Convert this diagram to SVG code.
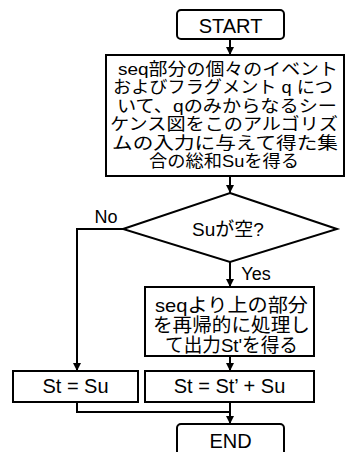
<svg xmlns="http://www.w3.org/2000/svg" width="345" height="452" viewBox="0 0 345 452">
<style>
.box{fill:#fff;stroke:#000;stroke-width:2}
.ln{fill:none;stroke:#000;stroke-width:2}
.t{font-family:"Liberation Sans","Noto Sans CJK JP",sans-serif;fill:#000;text-anchor:middle}
.j{font-size:19px}
.m{font-size:17px}
.l{font-size:20px}
.s{font-size:18px}
</style>
<defs>
<marker id="arr" markerUnits="userSpaceOnUse" viewBox="0 0 10 10" refX="10" refY="5" markerWidth="8" markerHeight="10" orient="auto">
<path d="M0,0 L10,5 L0,10 z" fill="#000"/>
</marker>
</defs>
<rect width="345" height="452" fill="#fff"/>
<g id="connectors">
<path class="ln" d="M230,39 V55" marker-end="url(#arr)"/>
<path class="ln" d="M230,176 V193" marker-end="url(#arr)"/>
<path class="ln" d="M123,229 H77 V371" marker-end="url(#arr)"/>
<path class="ln" d="M230,262 V287" marker-end="url(#arr)"/>
<path class="ln" d="M230,356 V371" marker-end="url(#arr)"/>
<path class="ln" d="M77,402 V412 H230"/>
<path class="ln" d="M230,402 V424" marker-end="url(#arr)"/>
<text class="t s" x="106" y="223">No</text>
<text class="t s" x="256" y="280">Yes</text>
</g>
<g id="start">
<rect class="box" x="177" y="10" width="107" height="29" rx="4"/>
<text class="t l" x="230.5" y="33">START</text>
</g>
<g id="step1">
<rect class="box" x="106" y="55" width="238" height="121"/>
<text class="t m" x="228" y="75" textLength="220" lengthAdjust="spacingAndGlyphs">seq部分の個々のイベント</text>
<text class="t m" x="223" y="93.4" textLength="220" lengthAdjust="spacingAndGlyphs">およびフラグメント q につ</text>
<text class="t m" x="227" y="111.8" textLength="220" lengthAdjust="spacingAndGlyphs">いて、qのみからなるシー</text>
<text class="t m" x="224" y="130.2" textLength="228" lengthAdjust="spacingAndGlyphs">ケンス図をこのアルゴリズ</text>
<text class="t m" x="225" y="148.6" textLength="226" lengthAdjust="spacingAndGlyphs">ムの入力に与えて得た集</text>
<text class="t m" x="224" y="167" textLength="150" lengthAdjust="spacingAndGlyphs">合の総和Suを得る</text>
</g>
<g id="decision">
<polygon class="box" points="230,193 337,229 230,262 123,229"/>
<text class="t j" x="228" y="236">Suが空?</text>
</g>
<g id="step2">
<rect class="box" x="145" y="287" width="169" height="69"/>
<text class="t j" x="231.5" y="312" textLength="153" lengthAdjust="spacingAndGlyphs">seqより上の部分</text>
<text class="t j" x="231.5" y="332" textLength="157" lengthAdjust="spacingAndGlyphs">を再帰的に処理し</text>
<text class="t j" x="231.5" y="352" textLength="133" lengthAdjust="spacingAndGlyphs">て出力St'を得る</text>
</g>
<g id="stsu">
<rect class="box" x="13" y="371" width="125" height="31"/>
<text class="t l" x="75.5" y="393">St = Su</text>
</g>
<g id="stsum">
<rect class="box" x="145" y="371" width="169" height="31"/>
<text class="t l" x="229.5" y="393">St = St’ + Su</text>
</g>
<g id="end">
<rect class="box" x="177" y="424" width="107" height="40" rx="4"/>
<text class="t l" x="230.5" y="448">END</text>
</g>
</svg>
